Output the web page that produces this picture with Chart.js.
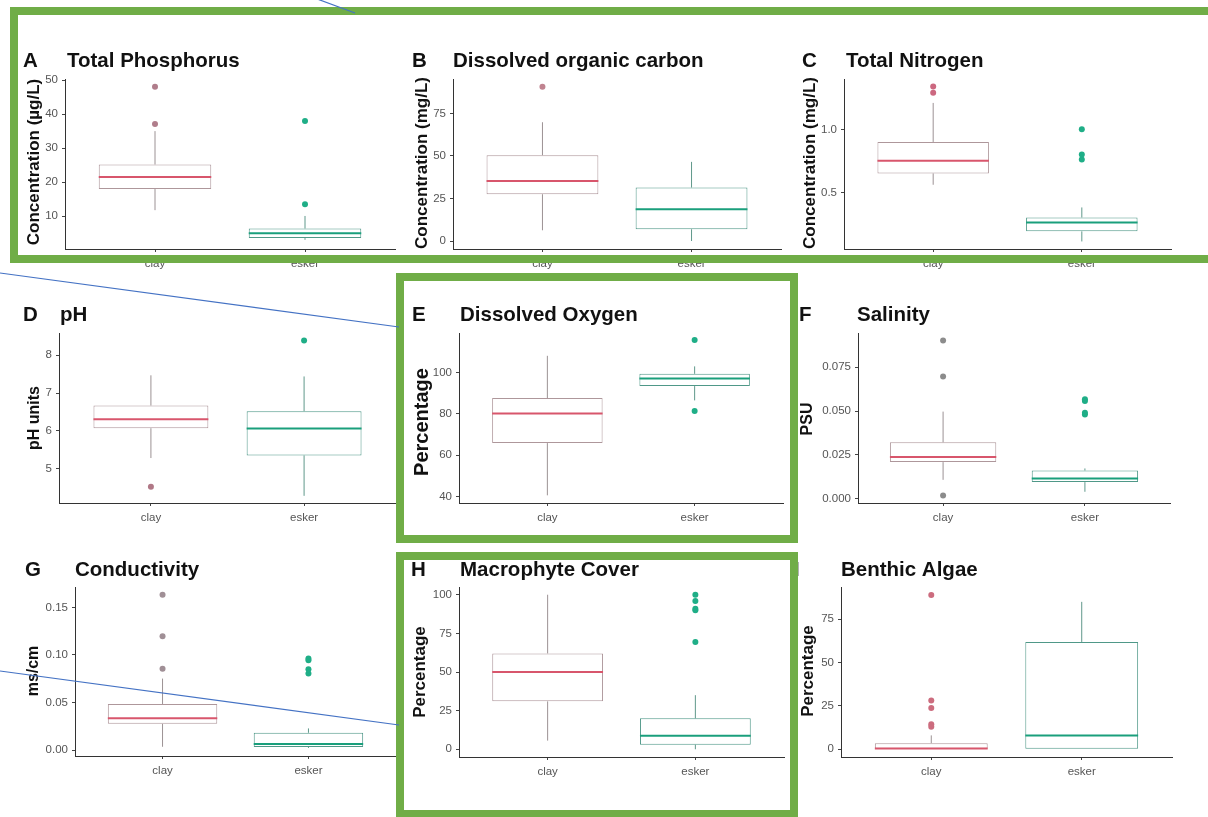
<!DOCTYPE html>
<html>
<head>
<meta charset="utf-8">
<script src="https://cdn.jsdelivr.net/npm/chart.js@4.4.0/dist/chart.umd.min.js"></script>
<style>
  body { margin: 0; background: #fff; }
  #wrap { position: relative; width: 1208px; height: 817px; overflow: hidden; background: #fff; }
  #wrap canvas { position: absolute; left: 0; top: 0; }
  .frame { position: absolute; border: 8px solid #70ad47; box-sizing: border-box; }
  #lines { position: absolute; left: 0; top: 0; }
</style>
</head>
<body>
<div id="wrap">
  <canvas id="p0" width="1208" height="817"></canvas>
  <canvas id="p1" width="1208" height="817"></canvas>
  <canvas id="p2" width="1208" height="817"></canvas>
  <canvas id="p3" width="1208" height="817"></canvas>
  <canvas id="p4" width="1208" height="817"></canvas>
  <canvas id="p5" width="1208" height="817"></canvas>
  <canvas id="p6" width="1208" height="817"></canvas>
  <canvas id="p7" width="1208" height="817"></canvas>
  <canvas id="p8" width="1208" height="817"></canvas>
  <div class="frame" style="left:10px;top:7px;width:1212px;height:256px;"></div>
  <div class="frame" style="left:396px;top:273px;width:402px;height:270px;"></div>
  <div class="frame" style="left:396px;top:552px;width:402px;height:266px;"></div>
  <svg id="lines" width="1208" height="817">
    <line x1="301" y1="-7" x2="355" y2="13" stroke="#4472c4" stroke-width="1.2"/>
    <line x1="0" y1="273" x2="399" y2="327" stroke="#4472c4" stroke-width="1.2"/>
    <line x1="0" y1="671" x2="399" y2="725" stroke="#4472c4" stroke-width="1.2"/>
  </svg>
</div>
<script>
// Data
const groups = ['clay', 'esker'];
const letters = ['A', 'B', 'C', 'D', 'E', 'F', 'G', 'H', 'I'];
const titles = ['Total Phosphorus', 'Dissolved organic carbon', 'Total Nitrogen', 'pH',
  'Dissolved Oxygen', 'Salinity', 'Conductivity', 'Macrophyte Cover', 'Benthic Algae'];
const yTitles = ['Concentration (µg/L)', 'Concentration (mg/L)', 'Concentration (mg/L)', 'pH units',
  'Percentage', 'PSU', 'ms/cm', 'Percentage', 'Percentage'];
const yTicks = [
  [10, 20, 30, 40, 50], [0, 25, 50, 75], [0.5, 1.0], [5, 6, 7, 8], [40, 60, 80, 100],
  [0, 0.025, 0.05, 0.075], [0, 0.05, 0.1, 0.15], [0, 25, 50, 75, 100], [0, 25, 50, 75]
];
const tickDecimals = [0, 0, 1, 0, 0, 3, 2, 0, 0];
const yMin = [0.4, -4.7, 0.05, 4.09, 37, -0.0024, -0.0062, -5, -4.45];
const yMax = [50.3, 95.2, 1.40, 8.59, 119, 0.0945, 0.1715, 105, 93.45];

// box stats: [lower whisker, Q1, median, Q3, upper whisker]
const clayStats = [
  [11.8, 18.0, 21.5, 25.2, 35.0],
  [6.3, 27.5, 35.2, 50.4, 69.8],
  [0.56, 0.65, 0.75, 0.90, 1.21],
  [5.28, 6.07, 6.31, 6.67, 7.47],
  [40.7, 65.9, 80.2, 87.6, 108.0],
  [0.0108, 0.0209, 0.0238, 0.0322, 0.0497],
  [0.0035, 0.0276, 0.0336, 0.0485, 0.0752],
  [5.6, 31, 50, 62, 100],
  [0, 0, 0.4, 3.5, 8]
];
const eskerStats = [
  [3.1, 3.6, 5.0, 6.4, 10.1],
  [0, 6.9, 18.7, 31.4, 46.5],
  [0.11, 0.19, 0.26, 0.30, 0.38],
  [4.28, 5.35, 6.06, 6.52, 7.44],
  [86.5, 93.4, 97.1, 99.3, 102.9],
  [0.0040, 0.0095, 0.0116, 0.0161, 0.0173],
  [0.0022, 0.0032, 0.0063, 0.0182, 0.0228],
  [0, 3, 8.8, 20, 35],
  [0, 0, 8, 61.8, 84.9]
];
const clayOutliers = [
  [37.1, 48], [90.7], [1.29, 1.34], [4.52], [],
  [0.0019, 0.0697, 0.0902], [0.0855, 0.1198, 0.1633], [], [12.9, 14.4, 23.8, 28.1, 88.8]
];
const eskerOutliers = [
  [13.5, 38], [], [0.76, 0.80, 1.0], [8.39], [81.4, 115.6],
  [0.0480, 0.0490, 0.0558, 0.0567], [0.0805, 0.085, 0.0945, 0.0963], [69.4, 90, 91, 96, 100], []
];

// Layout (page pixels): plot area [left, top, right, bottom], text positions
const panels = [
  { plot: [65, 79, 395, 249], letterX: 23, titleX: 67, baseY: 67, ytX: 34, ytY: 162, ytSize: 17 },
  { plot: [453, 79, 781, 249], letterX: 412, titleX: 453, baseY: 67, ytX: 422, ytY: 163, ytSize: 17 },
  { plot: [844, 79, 1171, 249], letterX: 802, titleX: 846, baseY: 67, ytX: 810, ytY: 163, ytSize: 17 },
  { plot: [59, 333, 396, 503], letterX: 23, titleX: 60, baseY: 321, ytX: 35, ytY: 418, ytSize: 16 },
  { plot: [459, 333, 783, 503], letterX: 412, titleX: 460, baseY: 321, ytX: 422, ytY: 422, ytSize: 20 },
  { plot: [858, 333, 1170, 503], letterX: 799, titleX: 857, baseY: 321, ytX: 808, ytY: 419, ytSize: 16 },
  { plot: [75, 587, 396, 756], letterX: 25, titleX: 75, baseY: 576, ytX: 34, ytY: 671, ytSize: 16 },
  { plot: [459, 587, 784, 757], letterX: 411, titleX: 460, baseY: 576, ytX: 420, ytY: 672, ytSize: 17 },
  { plot: [841, 587, 1172, 757], letterX: 794, titleX: 841, baseY: 576, ytX: 808, ytY: 671, ytSize: 17 }
];
const clayDotColors = ['#b07d8b', '#c08390', '#cc6880', '#b07886', '#b07886', '#8c8c8c', '#a08f96', '#b07886', '#cc6c7e'];
const boxBorder = ['#ae979b', '#4f9888'];
const whiskerColor = ['#9c9294', '#5f988b'];
const medianColor = ['#d8566c', '#1a9f7c'];
const eskerDot = '#1fae87';
const FONT = '"Liberation Sans", Arial, sans-serif';
const Y_AXIS_W = 40;
const X_AXIS_H = 30;

function makeChart(p) {
  const L = panels[p];
  const [left, top, right, bottom] = L.plot;
  const stats = [clayStats[p], eskerStats[p]];

  // whiskers and median lines, placed with the chart's own scales
  const boxExtras = {
    id: 'boxExtras',
    afterDatasetsDraw(chart) {
      const ctx = chart.ctx, xs = chart.scales.x, ys = chart.scales.y;
      const bars = chart.getDatasetMeta(0).data;
      stats.forEach((s, i) => {
        const cx = xs.getPixelForValue(i + 1);
        const half = bars[i].width / 2;
        ctx.save();
        ctx.strokeStyle = whiskerColor[i];
        ctx.lineWidth = 1;
        ctx.beginPath();
        ctx.moveTo(cx, ys.getPixelForValue(s[3]));
        ctx.lineTo(cx, ys.getPixelForValue(s[4]));
        ctx.moveTo(cx, ys.getPixelForValue(s[1]));
        ctx.lineTo(cx, ys.getPixelForValue(s[0]));
        ctx.stroke();
        const my = ys.getPixelForValue(s[2]);
        ctx.strokeStyle = medianColor[i];
        ctx.lineWidth = 2;
        ctx.beginPath();
        ctx.moveTo(cx - half, my);
        ctx.lineTo(cx + half, my);
        ctx.stroke();
        ctx.restore();
      });
    }
  };

  // panel letter, title and y-axis title
  const panelText = {
    id: 'panelText',
    afterDraw(chart) {
      const ctx = chart.ctx;
      ctx.save();
      ctx.fillStyle = '#111';
      ctx.textAlign = 'left';
      ctx.textBaseline = 'alphabetic';
      ctx.font = 'bold 20.5px ' + FONT;
      ctx.fillText(letters[p], L.letterX, L.baseY);
      ctx.fillText(titles[p], L.titleX, L.baseY);
      ctx.translate(L.ytX, L.ytY);
      ctx.rotate(-Math.PI / 2);
      ctx.textAlign = 'center';
      ctx.textBaseline = 'middle';
      ctx.font = 'bold ' + L.ytSize + 'px ' + FONT;
      ctx.fillText(yTitles[p], 0, 0);
      ctx.restore();
    }
  };

  new Chart(document.getElementById('p' + p), {
    type: 'bar',
    data: {
      datasets: [
        {
          type: 'bar',
          data: stats.map((s, i) => ({ x: i + 1, y: [s[1], s[3]] })),
          backgroundColor: '#ffffff',
          borderColor: boxBorder,
          borderWidth: 1,
          borderSkipped: false,
          categoryPercentage: 0.75,
          barPercentage: 1,
        },
        {
          type: 'line',
          data: clayOutliers[p].map(v => ({ x: 1, y: v })),
          showLine: false,
          pointRadius: 3,
          pointHoverRadius: 3,
          pointBorderWidth: 0,
          pointBackgroundColor: clayDotColors[p],
        },
        {
          type: 'line',
          data: eskerOutliers[p].map(v => ({ x: 2, y: v })),
          showLine: false,
          pointRadius: 3,
          pointHoverRadius: 3,
          pointBorderWidth: 0,
          pointBackgroundColor: eskerDot,
        },
      ],
    },
    options: {
      responsive: false,
      maintainAspectRatio: false,
      devicePixelRatio: 1,
      animation: false,
      events: [],
      layout: {
        padding: {
          left: left - Y_AXIS_W,
          top: top,
          right: 1208 - right,
          bottom: 817 - bottom - X_AXIS_H,
        },
      },
      plugins: { legend: { display: false }, tooltip: { enabled: false } },
      scales: {
        x: {
          type: 'linear',
          min: 0.4,
          max: 2.6,
          offset: false,
          afterBuildTicks: s => { s.ticks = [{ value: 1 }, { value: 2 }]; },
          afterFit: s => { s.height = X_AXIS_H; s.paddingLeft = 0; s.paddingRight = 0; },
          ticks: {
            callback: v => groups[v - 1],
            font: { size: 11.5, family: FONT },
            color: '#555',
            padding: 5,
            maxRotation: 0,
            autoSkip: false,
          },
          grid: { offset: false, drawOnChartArea: false, tickLength: 3, tickColor: '#444' },
          border: { color: '#333', width: 1 },
        },
        y: {
          type: 'linear',
          min: yMin[p],
          max: yMax[p],
          beginAtZero: false,
          afterBuildTicks: s => { s.ticks = yTicks[p].map(v => ({ value: v })); },
          afterFit: s => { s.width = Y_AXIS_W; s.paddingTop = 0; s.paddingBottom = 0; },
          ticks: {
            callback: v => Number(v).toFixed(tickDecimals[p]),
            font: { size: 11.5, family: FONT },
            color: '#555',
            padding: 4,
          },
          grid: { drawOnChartArea: false, tickLength: 3, tickColor: '#444' },
          border: { color: '#333', width: 1 },
        },
      },
    },
    plugins: [boxExtras, panelText],
  });
}

window.onload = function () {
  for (let p = 0; p < 9; p++) makeChart(p);
};
</script>
</body>
</html>
